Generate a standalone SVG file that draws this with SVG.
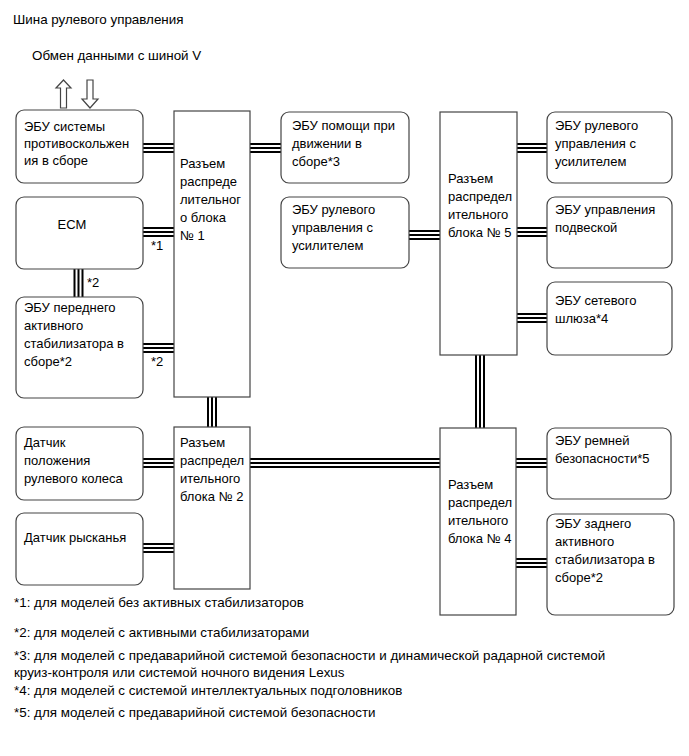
<svg xmlns="http://www.w3.org/2000/svg" width="689" height="756" viewBox="0 0 689 756">
<style>
text{font-family:"Liberation Sans",Arial,sans-serif;font-size:13px;fill:#000}
.note{font-size:13.4px}
.box{fill:#fff;stroke:#444;stroke-width:1.2}
.o{fill:none;stroke:#000;stroke-width:10}
.w{fill:none;stroke:#fff;stroke-width:6}
.i{fill:none;stroke:#000;stroke-width:2}
.arr{fill:#fff;stroke:#444;stroke-width:1.2}
</style>
<defs>
<path id="c1" d="M143,148H174"/>
<path id="c2" d="M143,232H174"/>
<path id="c3" d="M143,348H174"/>
<path id="c4" d="M78.5,269V297"/>
<path id="c5" d="M250,148H281"/>
<path id="c6" d="M409,235H440"/>
<path id="c7" d="M517,148H547"/>
<path id="c8" d="M517,232H547"/>
<path id="c9" d="M517,318H547"/>
<path id="c10" d="M212,397V427"/>
<path id="c11" d="M480,355V428"/>
<path id="c12" d="M143,463H174"/>
<path id="c13" d="M143,548H174"/>
<path id="c14" d="M250,463H440"/>
<path id="c15" d="M516,463H547"/>
<path id="c16" d="M516,563H547"/>
</defs>
<rect width="689" height="756" fill="#fff"/>
<text class="note" x="13" y="24">Шина рулевого управления</text>
<text class="note" x="32" y="60">Обмен данными с шиной V</text>
<g id="arrows">
<polygon class="arr" points="63.5,80 71,88 66.5,88 66.5,108 60.5,108 60.5,88 56,88"/>
<polygon class="arr" points="87,80 93,80 93,99 98,99 90,108 82,99 87,99"/>
</g>
<g id="connectors">
<g class="o"><use href="#c1"/><use href="#c2"/><use href="#c3"/><use href="#c4"/><use href="#c5"/><use href="#c6"/><use href="#c7"/><use href="#c8"/><use href="#c9"/><use href="#c10"/><use href="#c11"/><use href="#c12"/><use href="#c13"/><use href="#c14"/><use href="#c15"/><use href="#c16"/></g>
<g class="w"><use href="#c1"/><use href="#c2"/><use href="#c3"/><use href="#c4"/><use href="#c5"/><use href="#c6"/><use href="#c7"/><use href="#c8"/><use href="#c9"/><use href="#c10"/><use href="#c11"/><use href="#c12"/><use href="#c13"/><use href="#c14"/><use href="#c15"/><use href="#c16"/></g>
<g class="i"><use href="#c1"/><use href="#c2"/><use href="#c3"/><use href="#c4"/><use href="#c5"/><use href="#c6"/><use href="#c7"/><use href="#c8"/><use href="#c9"/><use href="#c10"/><use href="#c11"/><use href="#c12"/><use href="#c13"/><use href="#c14"/><use href="#c15"/><use href="#c16"/></g>
<text x="151" y="250">*1</text>
<text x="151" y="366">*2</text>
<text x="87" y="287">*2</text>
</g>
<g id="n_abs"><rect class="box" x="16" y="110" width="127" height="73" rx="8"/>
<text><tspan x="24" y="131">ЭБУ системы</tspan><tspan x="24" y="148">противоскольжен</tspan><tspan x="24" y="165">ия в сборе</tspan></text></g>
<g id="n_ecm"><rect class="box" x="16" y="197" width="127" height="72" rx="8"/>
<text x="72" y="229" text-anchor="middle">ECM</text></g>
<g id="n_front"><rect class="box" x="16" y="297" width="127" height="101" rx="8"/>
<text><tspan x="24" y="312">ЭБУ переднего</tspan><tspan x="24" y="330">активного</tspan><tspan x="24" y="348">стабилизатора в</tspan><tspan x="24" y="366">сборе*2</tspan></text></g>
<g id="n_b1"><rect class="box" x="174" y="111" width="76" height="286"/>
<text><tspan x="180" y="168">Разъем</tspan><tspan x="180" y="186">распреде</tspan><tspan x="180" y="204">лительног</tspan><tspan x="180" y="222">о блока</tspan><tspan x="180" y="240">№ 1</tspan></text></g>
<g id="n_assist"><rect class="box" x="281" y="112" width="128" height="71" rx="8"/>
<text><tspan x="292" y="130">ЭБУ помощи при</tspan><tspan x="292" y="148">движении в</tspan><tspan x="292" y="166">сборе*3</tspan></text></g>
<g id="n_eps_l"><rect class="box" x="281" y="197" width="128" height="71" rx="8"/>
<text><tspan x="292" y="214">ЭБУ рулевого</tspan><tspan x="292" y="232">управления с</tspan><tspan x="292" y="250">усилителем</tspan></text></g>
<g id="n_b5"><rect class="box" x="440" y="112" width="77" height="243"/>
<text><tspan x="448" y="183">Разъем</tspan><tspan x="448" y="201">распредел</tspan><tspan x="448" y="219">ительного</tspan><tspan x="448" y="237">блока № 5</tspan></text></g>
<g id="n_eps_r"><rect class="box" x="547" y="112" width="125" height="71" rx="8"/>
<text><tspan x="555" y="130">ЭБУ рулевого</tspan><tspan x="555" y="148">управления с</tspan><tspan x="555" y="166">усилителем</tspan></text></g>
<g id="n_susp"><rect class="box" x="547" y="197" width="125" height="71" rx="8"/>
<text><tspan x="555" y="214">ЭБУ управления</tspan><tspan x="555" y="232">подвеской</tspan></text></g>
<g id="n_gw"><rect class="box" x="547" y="282" width="125" height="73" rx="8"/>
<text><tspan x="555" y="305">ЭБУ сетевого</tspan><tspan x="555" y="323">шлюза*4</tspan></text></g>
<g id="n_sas"><rect class="box" x="16" y="427" width="127" height="73" rx="8"/>
<text><tspan x="24" y="447">Датчик</tspan><tspan x="24" y="465">положения</tspan><tspan x="24" y="483">рулевого колеса</tspan></text></g>
<g id="n_yaw"><rect class="box" x="16" y="513" width="127" height="72" rx="8"/>
<text x="24" y="542">Датчик рысканья</text></g>
<g id="n_b2"><rect class="box" x="174" y="427" width="76" height="162"/>
<text><tspan x="180" y="447">Разъем</tspan><tspan x="180" y="465">распредел</tspan><tspan x="180" y="483">ительного</tspan><tspan x="180" y="501">блока № 2</tspan></text></g>
<g id="n_b4"><rect class="box" x="440" y="428" width="76" height="187"/>
<text><tspan x="448" y="489">Разъем</tspan><tspan x="448" y="507">распредел</tspan><tspan x="448" y="525">ительного</tspan><tspan x="448" y="543">блока № 4</tspan></text></g>
<g id="n_belt"><rect class="box" x="547" y="428" width="124" height="71" rx="8"/>
<text><tspan x="555" y="445">ЭБУ ремней</tspan><tspan x="555" y="463">безопасности*5</tspan></text></g>
<g id="n_rear"><rect class="box" x="547" y="514" width="127" height="101" rx="8"/>
<text><tspan x="555" y="528">ЭБУ заднего</tspan><tspan x="555" y="546">активного</tspan><tspan x="555" y="564">стабилизатора в</tspan><tspan x="555" y="582">сборе*2</tspan></text></g>
<g id="notes">
<text class="note" x="14" y="607">*1: для моделей без активных стабилизаторов</text>
<text class="note" x="14" y="637">*2: для моделей с активными стабилизаторами</text>
<text class="note" x="14" y="660">*3: для моделей с предаварийной системой безопасности и динамической радарной системой</text>
<text class="note" x="14" y="677">круиз-контроля или системой ночного видения Lexus</text>
<text class="note" x="14" y="695">*4: для моделей с системой интеллектуальных подголовников</text>
<text class="note" x="14" y="717">*5: для моделей с предаварийной системой безопасности</text>
</g>
</svg>
